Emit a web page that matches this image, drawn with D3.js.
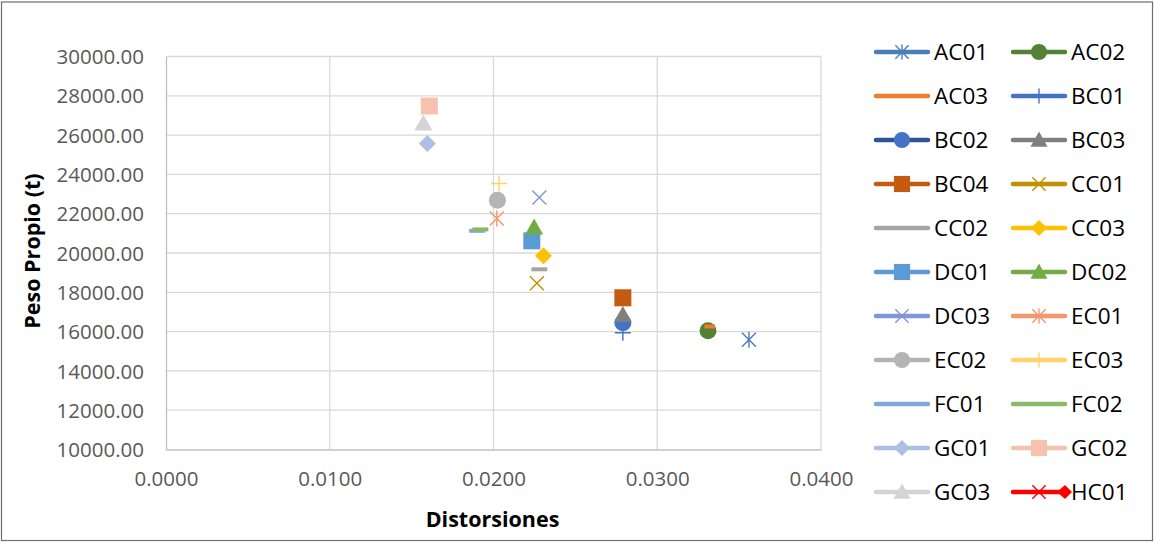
<!DOCTYPE html>
<html>
<head>
<meta charset="utf-8">
<script src="https://cdn.jsdelivr.net/npm/d3@7"></script>
<style>
  html, body { margin: 0; padding: 0; background: #fff; }
  svg { display: block; }
  text { font-family: "Open Sans", "Liberation Sans", sans-serif; }
</style>
</head>
<body>
<svg id="chart" width="1154" height="542"></svg>
<script>
// Series names, drift values (x) and self weight in tonnes (y)
const seriesNames = ["AC01","AC02","AC03","BC01","BC02","BC03","BC04","CC01","CC02","CC03",
                     "DC01","DC02","DC03","EC01","EC02","EC03","FC01","FC02","GC01","GC02","GC03","HC01"];
const distorsiones = [0.0356, 0.0331, 0.0332, 0.0279, 0.0279, 0.0279, 0.0279, 0.02265, 0.0228, 0.02305,
                      0.02234, 0.02248, 0.0228, 0.0202, 0.02024, 0.02034, 0.0190, 0.0192, 0.01596, 0.01608, 0.01572, null];
const pesoPropio   = [15590, 16040, 16260, 15940, 16450, 16850, 17720, 18460, 19170, 19860,
                      20620, 21300, 22830, 21760, 22690, 23540, 21130, 21200, 25570, 27480, 26590, null];
const markerTypes  = ["star","circle","dash","plus","circle","triangle","square","x","dash","diamond",
                      "square","triangle","x","star","circle","plus","dash","dash","diamond","square","triangle","hc"];
const markerColors = ["#4a7eb5","#548235","#ed7d31","#4472c4","#4472c4","#7f7f7f","#c55a11","#bf9000","#a5a5a5","#ffc000",
                      "#5b9bd5","#70ad47","#7f96d8","#f4976c","#b4b4b4","#ffd36b","#7fa9d9","#8cb86a","#afbfe3","#f6c2ae","#d4d4d4","#ff0000"];
const lineColors   = ["#4a7eb5","#548235","#ed7d31","#4472c4","#2f5597","#7f7f7f","#c55a11","#bf9000","#a5a5a5","#ffc000",
                      "#5b9bd5","#70ad47","#7f96d8","#f4976c","#b4b4b4","#ffd36b","#7fa9d9","#8cb86a","#afbfe3","#f6c2ae","#d4d4d4","#ff0000"];

const xTicks = [0, 0.01, 0.02, 0.03, 0.04];
const yTicks = [10000, 12000, 14000, 16000, 18000, 20000, 22000, 24000, 26000, 28000, 30000];

const svg = d3.select("#chart");
const W = 1154, H = 542;

// outer frame
svg.append("rect").attr("x", 1.5).attr("y", 2).attr("width", W - 3).attr("height", H - 3.5)
  .attr("fill", "#fff").attr("stroke", "#6e6e6e").attr("stroke-width", 1.2);

const plot = { left: 166, right: 821, top: 56.5, bottom: 449.5 };
const x = d3.scaleLinear().domain([0, 0.04]).range([plot.left, plot.right]);
const y = d3.scaleLinear().domain([10000, 30000]).range([plot.bottom, plot.top]);

// gridlines
const grid = svg.append("g");
grid.selectAll("line.gy").data(yTicks.slice(1)).join("line")
  .attr("x1", plot.left).attr("x2", plot.right)
  .attr("y1", d => y(d)).attr("y2", d => y(d))
  .attr("stroke", "#d9d9d9").attr("stroke-width", 1.3);
grid.selectAll("line.gx").data(xTicks.slice(1)).join("line")
  .attr("x1", d => x(d)).attr("x2", d => x(d))
  .attr("y1", plot.top).attr("y2", plot.bottom)
  .attr("stroke", "#d9d9d9").attr("stroke-width", 1.3);

// axes
const xAxis = svg.append("g").attr("transform", `translate(0,${plot.bottom})`)
  .call(d3.axisBottom(x).tickValues(xTicks).tickFormat(d3.format(".4f")).tickSize(0).tickPadding(22));
const yAxis = svg.append("g").attr("transform", `translate(${plot.left},0)`)
  .call(d3.axisLeft(y).tickValues(yTicks).tickFormat(d3.format(".2f")).tickSize(0).tickPadding(22));
[xAxis, yAxis].forEach(a => {
  a.select(".domain").attr("stroke", "#bfbfbf").attr("stroke-width", 1.3);
  a.selectAll("text").attr("fill", "#595959").style("font-size", "20.5px")
    .style("font-family", "'Open Sans', sans-serif");
});
xAxis.selectAll("text").attr("dy", "0.71em");
yAxis.selectAll("text").attr("dy", "0.35em");

// axis titles
svg.append("text").attr("x", (plot.left + plot.right) / 2 - 1).attr("y", 527)
  .attr("text-anchor", "middle").attr("font-weight", "bold").style("font-size", "21.5px")
  .attr("fill", "#000").text("Distorsiones");
svg.append("text").attr("transform", `translate(40,${(plot.top + plot.bottom) / 2 - 2}) rotate(-90)`)
  .attr("text-anchor", "middle").attr("font-weight", "bold").style("font-size", "21.5px")
  .attr("fill", "#000").text("Peso Propio (t)");

// marker drawing
function drawMarker(g, type, color, s) {
  const k = s || 1;
  switch (type) {
    case "circle":
      g.append("circle").attr("r", 8.5 * k).attr("fill", color); break;
    case "square":
      g.append("rect").attr("x", -8.5 * k).attr("y", -8.5 * k).attr("width", 17 * k).attr("height", 17 * k).attr("fill", color); break;
    case "triangle":
      g.append("path").attr("d", `M0,${-9 * k}L${9 * k},${7 * k}L${-9 * k},${7 * k}Z`).attr("fill", color); break;
    case "diamond":
      g.append("path").attr("d", `M0,${-8.5 * k}L${8.5 * k},0L0,${8.5 * k}L${-8.5 * k},0Z`).attr("fill", color); break;
    case "dash":
      g.append("rect").attr("x", -8 * k).attr("y", -2).attr("width", 16 * k).attr("height", 4).attr("fill", color); break;
    case "x":
    case "hc":
      g.append("path").attr("d", `M${-7 * k},${-7 * k}L${7 * k},${7 * k}M${7 * k},${-7 * k}L${-7 * k},${7 * k}`)
        .attr("stroke", color).attr("stroke-width", 1.4).attr("fill", "none"); break;
    case "plus":
      g.append("path").attr("d", `M${-8 * k},0L${8 * k},0M0,${-8 * k}L0,${8 * k}`)
        .attr("stroke", color).attr("stroke-width", 1.4).attr("fill", "none"); break;
    case "star":
      g.append("path").attr("d", `M${-7 * k},${-7 * k}L${7 * k},${7 * k}M${7 * k},${-7 * k}L${-7 * k},${7 * k}M0,${-8 * k}L0,${8 * k}`)
        .attr("stroke", color).attr("stroke-width", 1.4).attr("fill", "none"); break;
  }
}

// data points
const points = seriesNames.map((n, i) => ({ name: n, x: distorsiones[i], y: pesoPropio[i], type: markerTypes[i], color: markerColors[i] }))
  .filter(d => d.x != null && d.y != null);
const pts = svg.append("g");
points.forEach(d => {
  const g = pts.append("g").attr("transform", `translate(${x(d.x)},${y(d.y)})`);
  drawMarker(g, d.type, d.color, d.name === "AC03" ? 0.65 : 1);
});

// legend: two columns
const legend = svg.append("g");
const colX = [876, 1013], rowY0 = 52, rowStep = 44, lineLen = 52;
seriesNames.forEach((n, i) => {
  const cx = colX[i % 2], cy = rowY0 + Math.floor(i / 2) * rowStep;
  const g = legend.append("g").attr("transform", `translate(${cx},${cy})`);
  g.append("line").attr("x1", 0).attr("x2", lineLen).attr("y1", 0).attr("y2", 0)
    .attr("stroke", lineColors[i]).attr("stroke-width", 4.5).attr("stroke-linecap", "round");
  const m = g.append("g").attr("transform", `translate(${lineLen / 2},0)`);
  drawMarker(m, markerTypes[i], markerColors[i], markerTypes[i] === "dash" ? 0.6 : 0.95);
  if (markerTypes[i] === "hc") {
    g.append("path").attr("d", `M${lineLen - 8},0L${lineLen},-7L${lineLen + 7},0L${lineLen},7Z`).attr("fill", markerColors[i]);
  }
  g.append("text").attr("x", lineLen + 6).attr("y", 0).attr("dy", "0.36em")
    .style("font-size", "22.5px").attr("fill", "#000").text(n);
});
</script>
</body>
</html>
